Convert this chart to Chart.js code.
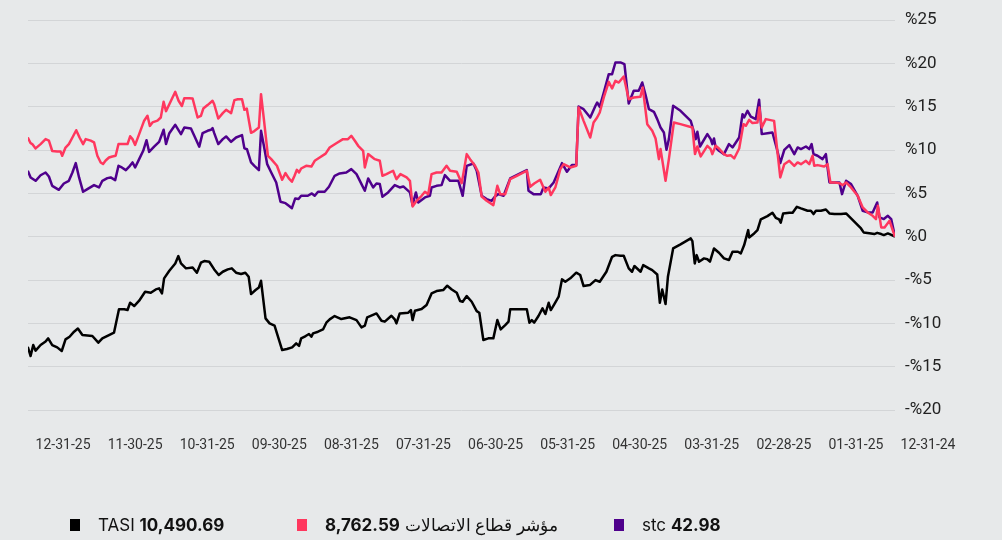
<!DOCTYPE html>
<html>
<head>
<meta charset="utf-8">
<script src="https://cdn.jsdelivr.net/npm/chart.js@4.4.1/dist/chart.umd.min.js"></script>
<style>
body{margin:0;background:#e7e9ea;font-family:Inter,Roboto,sans-serif}
#wrap{position:relative;width:1002px;height:540px}
#legend .item{position:absolute;top:515px;display:flex;align-items:center;font-size:17px;color:#111;white-space:nowrap}
#legend .box{width:10px;height:12px;margin-right:18px}
#legend b{font-weight:700}
</style>
</head>
<body>
<div id="wrap">
<canvas id="chart" width="1002" height="540"></canvas>
<div id="legend"></div>
</div>
<script>
// x values are calendar days after 12-31-24, y values are % change
const monthLabels=['12-31-24','01-31-25','02-28-25','03-31-25','04-30-25','05-31-25','06-30-25','07-31-25','08-31-25','09-30-25','10-31-25','11-30-25','12-31-25']

const telecomDays=[365.1,363.9,363.2,361.8,359.7,357.6,356.2,354.8,352.7,351.3,350.6,349.2,347.8,346.3,344.7,343.3,341.8,340.7,338.6,337.2,335.8,334.4,333.4,332.3,330.9,329.5,328.1,326.9,324.5,323.1,322.0,321.0,319.9,318.2,316.1,314.7,313.7,312.6,310.5,309.1,307.9,306.9,305.5,304.1,303.0,301.6,300.2,299.2,297.1,295.7,293.6,292.2,291.2,289.4,287.3,286.6,284.9,283.0,281.6,280.2,279.5,278.1,276.7,274.9,273.9,272.9,271.1,269.7,267.8,266.9,265.7,264.0,262.6,260.2,258.0,256.6,255.2,253.9,252.8,251.8,250.9,250.0,247.9,245.7,244.3,242.2,239.7,238.0,235.2,232.4,230.3,228.9,227.4,226.0,223.9,223.2,221.8,219.0,216.9,215.8,214.1,211.3,209.9,208.2,205.6,204.2,203.1,201.4,199.3,197.9,196.5,195.1,193.0,190.9,188.8,187.3,184.5,182.4,180.3,178.9,176.8,175.4,174.0,171.9,169.1,167.4,166.2,164.1,162.0,159.2,155.0,153.6,151.9,149.4,147.2,145.8,144.9,143.0,140.9,139.5,136.7,134.2,133.2,131.1,128.3,126.9,125.4,124.3,122.6,120.5,119.1,117.7,116.3,114.2,112.1,110.0,107.2,106.2,104.3,102.2,100.8,99.4,98.7,96.6,95.2,93.1,90.3,85.3,84.2,83.2,81.8,79.0,77.6,76.9,75.5,74.1,72.0,70.6,69.2,67.7,65.6,63.8,62.8,61.4,60.0,57.9,57.1,56.1,54.4,50.9,49.7,48.3,46.6,44.5,42.4,41.0,39.6,37.5,36.1,34.7,34.0,32.6,29.8,28.4,27.2,25.5,23.4,22.0,20.6,18.5,15.7,13.6,11.5,9.4,8.0,7.2,5.8,4.4,2.3,0]
const telecomVals=[11.46,10.8,10.7,10.2,10.7,11.27,11.1,9.9,9.85,9.85,9.35,10.3,10.7,11.46,12.3,11.46,10.7,11.27,11.1,10.9,9.35,8.58,8.4,8.8,9.15,9.27,9.35,10.7,10.7,10.7,11.6,11.27,10.6,11.85,13.4,13.96,12.8,13.2,13.4,13.77,15.58,14.5,15.3,16.1,16.73,15.7,15.1,16.0,16.0,15.96,13.77,13.96,14.8,15.2,15.7,15.3,13.65,14.27,14.65,14.4,14.27,15.77,15.88,15.88,14.65,14.8,12.0,12.2,12.6,16.46,13.58,9.35,8.96,8.19,6.58,7.35,6.73,6.35,7.04,7.73,7.42,7.88,8.19,8.1,8.77,9.15,9.6,10.3,10.8,11.27,11.27,11.65,11.08,10.5,9.92,8.0,9.54,8.96,8.77,7.04,7.23,7.62,6.65,7.23,6.85,6.46,3.5,4.15,4.73,5.19,4.92,7.23,7.42,7.42,8.19,7.62,7.5,6.19,9.54,8.96,8.19,7.42,4.65,4.15,3.65,5.88,4.92,4.92,6.65,7.04,7.62,5.77,6.15,6.58,5.19,5.69,4.81,5.69,7.81,8.38,8.0,8.19,14.92,13.38,11.46,13.19,13.77,14.35,16.08,17.88,17.12,18.0,17.8,18.5,15.88,16.08,16.15,17.23,13.0,12.23,11.35,8.96,10.12,6.46,8.96,13.19,13.0,12.62,9.54,10.42,9.27,10.5,10.12,9.54,10.5,10.19,9.54,9.35,9.42,9.04,10.19,13.0,12.81,13.5,13.12,13.19,14.92,12.62,13.58,13.38,10.31,6.85,8.38,8.77,8.19,8.58,8.38,8.77,8.38,9.35,8.19,8.27,8.12,8.38,6.27,6.27,6.19,5.96,6.27,5.69,4.73,3.38,2.81,2.42,2.04,3.58,1.08,1.08,1.85,0]

const stcDays=[365.1,363.9,361.8,359.7,357.6,356.2,354.8,352.0,349.9,347.8,346.3,344.9,343.5,341.8,340.0,337.2,335.1,333.7,331.6,330.2,328.3,326.9,325.5,323.8,322.1,321.0,319.9,318.2,316.5,315.1,314.0,311.9,309.8,307.9,306.9,305.5,303.0,300.6,299.2,296.4,295.0,292.9,291.5,289.4,288.0,287.3,286.6,284.9,283.0,281.6,279.5,277.4,274.9,273.9,272.8,271.1,269.7,267.8,266.9,265.7,264.3,262.6,260.5,258.7,256.6,255.2,253.9,252.5,251.1,250.0,247.2,245.5,244.3,242.9,240.1,238.3,235.9,233.8,231.0,228.9,226.7,224.6,223.2,221.8,219.7,218.3,216.9,215.8,213.4,210.6,208.5,207.0,204.2,203.1,201.7,200.7,197.9,195.8,195.1,193.0,190.9,189.5,187.3,183.8,182.0,180.3,177.5,176.1,174.0,171.9,169.8,168.4,167.0,164.8,162.0,157.8,155.0,154.3,152.2,149.1,148.0,145.8,143.7,140.2,138.1,136.0,134.2,133.2,131.1,128.3,126.1,125.4,124.3,122.6,120.5,119.1,117.7,115.6,113.9,112.1,110.0,107.9,106.4,105.0,103.6,101.5,100.1,98.7,97.3,96.2,95.2,93.4,90.3,86.0,84.6,83.9,83.2,82.1,81.1,79.0,77.6,76.9,76.2,75.5,74.1,72.0,69.9,68.4,67.0,65.6,64.2,63.5,62.1,60.7,58.6,57.2,56.1,53.7,51.6,49.7,48.3,46.6,44.5,42.4,41.0,39.6,37.5,36.1,35.1,34.3,32.6,30.5,29.1,27.6,25.5,23.4,22.3,20.6,18.5,15.7,13.6,11.5,9.4,7.5,6.5,4.7,3.0,1.6,0]
const stcVals=[7.62,6.85,6.46,7.1,7.42,6.96,5.88,5.42,6.15,6.46,7.42,8.5,6.85,5.19,5.5,5.96,5.69,6.46,6.77,6.85,6.54,8.19,8.0,7.69,8.19,8.58,8.0,8.96,9.92,11.15,9.8,10.4,10.96,12.35,10.7,11.96,12.92,11.85,12.6,12.5,11.65,10.4,11.96,12.23,12.35,12.54,11.96,10.7,11.27,11.58,10.96,11.46,11.73,10.2,10.1,8.58,8.19,7.69,12.23,10.5,8.38,7.42,6.27,4.04,3.88,3.58,3.3,4.42,4.35,4.73,4.73,5.0,4.73,5.19,5.19,5.77,7.04,7.31,7.42,7.81,7.23,6.08,5.31,6.73,5.69,6.15,6.08,4.62,5.12,5.96,5.69,5.81,5.12,3.65,5.12,3.96,4.54,4.73,5.69,5.88,5.96,7.12,6.46,6.46,4.73,8.19,8.46,7.62,4.73,4.35,4.15,4.65,4.92,4.73,6.73,7.31,7.69,5.31,4.92,4.92,5.69,5.58,6.27,8.5,7.5,8.27,8.27,15.04,14.73,13.77,15.12,15.5,15.0,16.65,18.77,18.77,20.12,20.12,19.92,15.38,16.85,16.85,17.81,16.35,14.73,14.42,13.58,12.62,12.04,10.04,11.27,15.12,14.54,13.38,12.04,11.27,12.12,10.42,10.88,11.85,11.27,10.69,11.35,10.31,9.92,9.54,10.69,10.31,10.88,11.46,14.15,13.77,14.54,13.88,13.58,15.81,11.85,11.96,12.04,10.12,8.5,10.04,10.58,9.54,10.31,10.12,10.42,10.12,10.69,9.54,9.35,8.96,9.54,6.27,6.27,6.27,4.92,6.46,6.08,4.73,3.0,2.81,2.81,3.96,2.23,2.04,2.42,2.04,0]

const tasiDays=[365.1,363.9,362.8,361.8,359.7,357.6,356.5,354.8,352.7,350.8,349.2,347.5,345.6,344.0,342.1,337.9,335.4,333.7,330.9,328.8,326.7,324.5,323.1,322.0,320.3,318.2,315.7,313.3,311.2,309.8,308.6,307.7,305.5,303.0,301.7,300.6,298.5,295.7,293.9,292.2,290.8,288.7,286.6,284.7,283.0,280.9,279.2,277.4,275.3,273.5,272.1,271.1,269.2,267.8,266.9,265.0,263.3,261.2,258.0,256.0,253.8,252.1,250.9,250.0,248.1,246.7,245.7,245.0,242.9,240.8,239.4,238.0,235.9,233.1,229.6,226.7,224.6,223.2,222.2,218.3,216.2,214.8,212.0,210.6,209.9,208.5,204.9,203.8,203.1,202.1,199.3,197.2,195.1,193.0,190.2,188.5,186.6,184.5,183.1,182.0,180.3,178.2,176.1,175.0,173.3,171.2,169.1,167.4,166.0,164.1,162.7,162.0,159.2,155.0,153.9,152.9,151.9,150.1,148.4,147.2,145.8,144.9,143.4,141.6,140.2,138.8,136.7,134.2,132.5,131.1,128.5,126.1,124.3,121.5,119.1,117.7,115.6,114.2,112.1,110.7,109.7,107.1,106.0,103.6,102.2,100.1,99.0,98.0,96.6,95.6,93.4,90.3,86.0,85.3,84.3,83.5,82.5,80.4,79.0,77.9,76.2,74.1,72.0,69.9,68.4,66.1,64.9,63.5,61.8,61.4,59.3,57.9,56.5,53.7,51.6,50.2,48.8,48.1,47.1,44.5,43.1,41.3,39.6,36.8,35.4,34.3,33.3,31.2,29.1,27.6,25.5,22.7,20.6,18.5,16.4,14.3,13.2,10.8,8.7,7.5,5.8,4.7,3.0,1.3,0]
const tasiVals=[-12.7,-13.77,-12.5,-13.15,-12.5,-12.1,-11.73,-12.5,-12.77,-13.19,-11.85,-11.54,-10.96,-10.6,-11.35,-11.46,-12.23,-11.73,-11.35,-11.08,-8.38,-8.38,-8.46,-7.62,-8.0,-7.38,-6.35,-6.46,-6.08,-5.96,-6.54,-4.8,-3.92,-3.08,-2.23,-3.08,-3.65,-3.54,-4.15,-3.0,-2.81,-2.88,-3.77,-4.42,-4.04,-3.77,-3.65,-4.15,-4.3,-4.15,-4.62,-6.62,-6.15,-5.85,-5.08,-9.42,-10.0,-10.27,-13.08,-12.96,-12.77,-12.3,-12.6,-11.73,-11.46,-11.23,-11.54,-11.15,-10.96,-10.7,-9.92,-9.54,-9.15,-9.5,-9.3,-9.62,-10.46,-10.27,-9.3,-8.85,-9.69,-9.8,-9.12,-9.54,-10.0,-8.85,-8.77,-8.46,-9.62,-8.54,-8.35,-7.88,-6.54,-6.27,-6.15,-5.65,-6.08,-6.46,-7.42,-7.5,-6.85,-7.5,-8.58,-8.77,-11.92,-11.73,-11.73,-9.62,-10.7,-10.2,-9.8,-8.38,-8.38,-8.38,-9.92,-9.62,-9.92,-9.15,-8.27,-8.92,-7.62,-8.46,-7.77,-6.92,-4.92,-5.19,-4.8,-4.15,-4.42,-5.69,-5.58,-5.0,-5.19,-4.04,-2.31,-2.12,-2.19,-2.19,-3.65,-4.04,-3.38,-4.04,-3.27,-3.65,-3.85,-4.35,-7.62,-6.08,-7.77,-4.62,-1.35,-0.88,-0.19,-0.5,-3.08,-2.12,-2.88,-2.5,-2.6,-2.88,-1.35,-1.85,-2.5,-2.69,-1.73,-1.73,-1.92,-0.96,0.77,-0.08,0.38,0.77,2.0,2.38,2.77,2.19,2.0,1.62,2.69,2.77,2.77,3.46,3.27,3.0,3.0,2.62,3.0,3.0,3.15,2.69,2.62,2.62,2.69,2.12,1.54,0.96,0.5,0.4,0.31,0.45,0.31,0.19,0.38,0.19,0]

const seriesNames=['TASI','مؤشر قطاع الاتصالات','stc']
const lastValues=['10,490.69','8,762.59','42.98']
const colors=['#000000','#ff375e','#4f008c']

function pts(days,vals){
  return days.map((d,i)=>({x:d,y:vals[i]}))
}

function pct(v){
  return v<0 ? '-%'+Math.abs(v) : '%'+v
}

const ctx=document.getElementById('chart')

new Chart(ctx,{
  type:'line',
  data:{
    datasets:[
      {label:seriesNames[1],data:pts(telecomDays,telecomVals),borderColor:colors[1]},
      {label:seriesNames[2],data:pts(stcDays,stcVals),borderColor:colors[2]},
      {label:seriesNames[0],data:pts(tasiDays,tasiVals),borderColor:colors[0]}
    ]
  },
  options:{
    responsive:false,
    animation:false,
    parsing:true,
    elements:{
      line:{borderWidth:2.5,tension:0,borderJoinStyle:'round'},
      point:{radius:0,hoverRadius:0}
    },
    layout:{padding:{left:28,top:20,right:0,bottom:0}},
    plugins:{legend:{display:false},tooltip:{enabled:false}},
    scales:{
      x:{type:'linear',reverse:true,min:0,max:365,display:false},
      m:{
        type:'linear',
        position:'bottom',
        reverse:true,
        min:0.458,
        max:12.486,
        grid:{display:false},
        border:{display:false},
        afterBuildTicks:s=>{s.ticks=monthLabels.map((_,i)=>({value:i}))},
        afterFit:s=>{s.height=130;s.paddingLeft=0;s.paddingRight=0},
        ticks:{
          autoSkip:false,
          maxRotation:0,
          padding:19,
          color:'#333',
          font:{family:'Roboto',size:14},
          callback:v=>monthLabels[v]
        }
      },
      y:{
        position:'right',
        min:-20,
        max:25,
        grid:{color:'#d3d5d7',lineWidth:1,drawTicks:false},
        border:{display:false},
        afterFit:s=>{s.width=107},
        ticks:{
          stepSize:5,
          padding:10,
          color:'#222',
          font:{family:'Roboto',size:17},
          callback:v=>pct(v)
        }
      }
    }
  }
})

// legend below the chart
const legendLeft=[70,297,614]
const legend=document.getElementById('legend')
const order=[0,1,2]
order.forEach(i=>{
  const item=document.createElement('div')
  item.className='item'
  item.style.left=legendLeft[i]+'px'
  const box=document.createElement('span')
  box.className='box'
  box.style.background=colors[i]
  item.appendChild(box)
  const txt=document.createElement('span')
  if(i===1){
    txt.innerHTML='<b>'+lastValues[i]+'</b> '+seriesNames[i]
  }else{
    txt.innerHTML=seriesNames[i]+' <b>'+lastValues[i]+'</b>'
  }
  txt.dir='ltr'
  item.appendChild(txt)
  legend.appendChild(item)
})
</script>
</body>
</html>
